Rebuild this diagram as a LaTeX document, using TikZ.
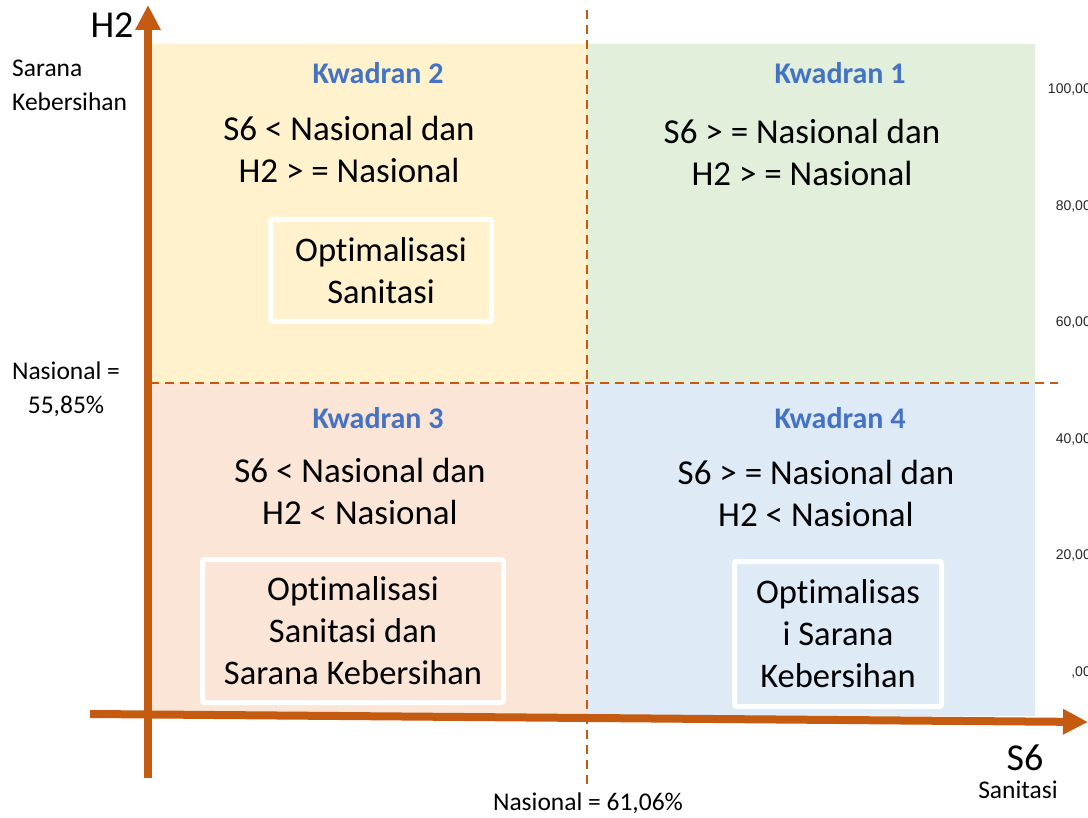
\documentclass[tikz,border=0pt]{standalone}
\usepackage{fontspec}
\setmainfont{Carlito}[RawFeature={-liga}]
\newfontfamily\arialf{Liberation Sans}
\usetikzlibrary{arrows.meta}
\definecolor{axiscol}{HTML}{C55A11}
\definecolor{qone}{HTML}{E2EFDA}
\definecolor{qtwo}{HTML}{FFF2CC}
\definecolor{qthree}{HTML}{FBE5D6}
\definecolor{qfour}{HTML}{DEEBF7}
\definecolor{kwblue}{HTML}{4472C4}
\tikzset{
  kwlabel/.style={font=\fontsize{30}{36}\selectfont\bfseries, text=kwblue, inner sep=0pt},
  stmt/.style={font=\fontsize{35}{42}\selectfont, align=center, inner sep=0pt},
  actbox/.style={draw=white, line width=5pt, rounded corners=2pt, inner sep=0pt, align=center,
                 font=\fontsize{34.5}{42}\selectfont},
  axis/.style={draw=axiscol, line width=8pt, -{Triangle[length=25pt,width=24pt]}},
  natline/.style={draw=axiscol, line width=2.7pt, dash pattern=on 9pt off 6pt},
  side/.style={font=\fontsize{25.5}{34}\selectfont, inner sep=0pt},
  big/.style={font=\fontsize{38}{40}\selectfont, inner sep=0pt},
  tick/.style={font=\arialf\fontsize{14}{16}\selectfont, anchor=east, inner sep=0pt, text=black!85}
}
\begin{document}
\begin{tikzpicture}[x=1pt,y=-1pt]
\useasboundingbox (0,0) rectangle (1088,818);
% quadrants
\fill[qtwo] (150,44) rectangle (587,383);
\fill[qone] (587,44) rectangle (1035,383);
\fill[qthree] (150,383) rectangle (587,716);
\fill[qfour] (587,383) rectangle (1035,716);
% tick values (clipped at right edge, as in the reference)
\node[tick] (t100) at (1091,90) {100,00};
\node[tick] (t80) at (1091,207) {80,00};
\node[tick] (t60) at (1091,323) {60,00};
\node[tick] (t40) at (1091,440) {40,00};
\node[tick] (t20) at (1091,556) {20,00};
\node[tick] (t0) at (1091,673) {,00};
% national lines
\coordinate (vtop) at (587,10);
\coordinate (vbot) at (587,785);
\coordinate (hleft) at (150,383);
\coordinate (hright) at (1058,383);
\draw[natline] (vtop) -- (vbot);
\draw[natline] (hleft) -- (hright);
% labels
\node[kwlabel] (k2) at (378,73) {Kwadran 2};
\node[kwlabel] (k1) at (840,73) {Kwadran 1};
\node[kwlabel] (k3) at (378,418) {Kwadran 3};
\node[kwlabel] (k4) at (840,418) {Kwadran 4};
\node[stmt] (s2) at (349,149) {S6 < Nasional dan\\H2 > = Nasional};
\node[stmt] (s1) at (802,152) {S6 > = Nasional dan\\H2 > = Nasional};
\node[stmt] (s3) at (360,491) {S6 < Nasional dan\\H2 < Nasional};
\node[stmt] (s4) at (816,493) {S6 > = Nasional dan\\H2 < Nasional};
% action boxes
\node[actbox, fill=qtwo, minimum width=221pt, minimum height=102pt] (b2) at (381,270.5) {Optimalisasi\\Sanitasi};
\node[actbox, fill=qthree, minimum width=301pt, minimum height=143pt] (b3) at (353,631) {Optimalisasi\\Sanitasi dan\\Sarana Kebersihan};
\node[actbox, fill=qfour, minimum width=207pt, minimum height=145pt] (b4) at (838,634) {Optimalisas\\i Sarana\\Kebersihan};
% axes
\coordinate (ybot) at (148,778);
\coordinate (ytop) at (148,5);
\coordinate (xleft) at (90,714);
\coordinate (xright) at (1088,722);
\draw[axis] (ybot) -- (ytop);
\draw[axis] (xleft) -- (xright);
% axis labels
\node[big] (h2) at (112,25) {H2};
\node[side, align=left, anchor=west] (h2name) at (12,85) {Sarana\\Kebersihan};
\node[side, align=center] (ynat) at (66,389) {Nasional =\\55,85\%};
\node[big] (s6) at (1025,758) {S6};
\node[side] (s6name) at (1018,790) {Sanitasi};
\node[side] (xnat) at (588,803) {Nasional = 61,06\%};
\end{tikzpicture}
\end{document}
